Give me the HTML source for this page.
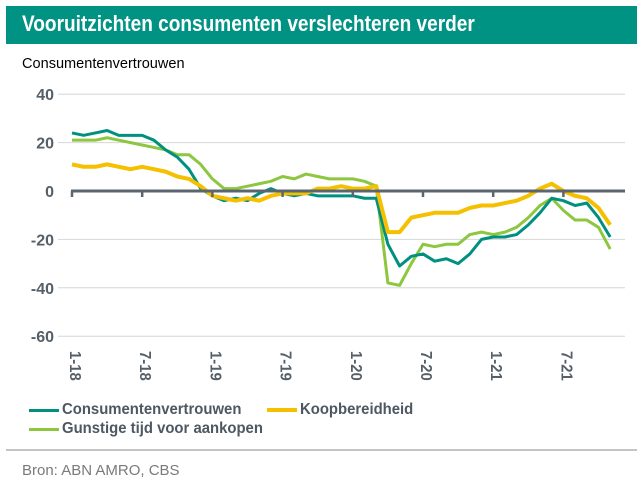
<!DOCTYPE html>
<html><head><meta charset="utf-8"><style>
body{margin:0;background:#fff;width:643px;height:500px;overflow:hidden;font-family:"Liberation Sans",Arial,sans-serif}
.lg{position:absolute;font-size:16px;font-weight:bold;color:#4d5862;line-height:20px;white-space:nowrap}
.sw{position:absolute;height:3px}
</style></head><body>
<div style="position:absolute;left:6px;top:6px;width:631px;height:38px;background:#009383"></div>
<div style="position:absolute;left:22px;top:9px;color:#fff;font-weight:bold;font-size:22px;line-height:30px;white-space:nowrap;transform:scaleX(0.866);transform-origin:0 0">Vooruitzichten consumenten verslechteren verder</div>
<div style="position:absolute;left:22px;top:54px;color:#000;font-size:15px;line-height:20px;transform:scaleX(0.97);transform-origin:0 0">Consumentenvertrouwen</div>
<svg id="chart" width="643" height="500" style="position:absolute;left:0;top:0">
<g id="grid"></g><g id="series"></g><g id="xlabels"></g>
</svg>
<div>
<div class="sw" style="left:29px;top:409px;width:30px;background:#00907f"></div>
<div class="lg" style="left:62px;top:400px;transform:scaleX(0.93);transform-origin:0 0">Consumentenvertrouwen</div>
<div class="sw" style="left:267px;top:408px;width:30px;height:4px;background:#f5c000"></div>
<div class="lg" style="left:300px;top:400px;transform:scaleX(0.93);transform-origin:0 0">Koopbereidheid</div>
<div class="sw" style="left:29px;top:428px;width:30px;background:#8dc63f"></div>
<div class="lg" style="left:62px;top:419px;transform:scaleX(0.93);transform-origin:0 0">Gunstige tijd voor aankopen</div>
</div>
<div style="position:absolute;left:6px;top:449px;width:631px;height:2px;background:#c4c4c4"></div>
<div style="position:absolute;left:22px;top:461px;font-size:15px;color:#7a7a7a;line-height:20px">Bron: ABN AMRO, CBS</div>
<script>
const yTicks=[40,20,0,-20,-40,-60];
const xTickLabels=["1-18","7-18","1-19","7-19","1-20","7-20","1-21","7-21"];
const consumentenvertrouwen=[24,23,24,25,23,23,23,21,17,14,9,1,-2,-4,-3,-4,-1,1,-1,-2,-1,-2,-2,-2,-2,-3,-3,-22,-31,-27,-26,-29,-28,-30,-26,-20,-19,-19,-18,-14,-9,-3,-4,-6,-5,-11,-19];
const koopbereidheid=[11,10,10,11,10,9,10,9,8,6,5,2,-2,-3,-4,-3,-4,-2,-1,-1,-1,1,1,2,1,1,2,-17,-17,-11,-10,-9,-9,-9,-7,-6,-6,-5,-4,-2,1,3,0,-2,-3,-7,-14];
const gunstigeTijd=[21,21,21,22,21,20,19,18,17,15,15,11,5,1,1,2,3,4,6,5,7,6,5,5,5,4,2,-38,-39,-30,-22,-23,-22,-22,-18,-17,-18,-17,-15,-11,-6,-3,-8,-12,-12,-15,-24];
const NS="http://www.w3.org/2000/svg";
const x0=72,dx=11.7,y0=191,py=2.42;
const X=i=>x0+i*dx, Y=v=>y0-v*py;
const grid=document.getElementById('grid');
yTicks.forEach(t=>{
  if(t!==0){const l=document.createElementNS(NS,'line');
  
  
  l.setAttribute('x1',58);l.setAttribute('x2',625);l.setAttribute('y1',Y(t));l.setAttribute('y2',Y(t));
  l.setAttribute('stroke','#d6d6d6');l.setAttribute('stroke-width',1);grid.appendChild(l);}
  const tx=document.createElementNS(NS,'text');
  
  
  tx.setAttribute('x',54);tx.setAttribute('y',Y(t)+6);tx.setAttribute('text-anchor','end');
  tx.setAttribute('font-size','16');tx.setAttribute('font-weight','bold');tx.setAttribute('fill','#555f68');
  tx.textContent=t;grid.appendChild(tx);
});
const xl=document.getElementById('xlabels');
xTickLabels.forEach((s,k)=>{
  const x=X(k*6);
  const tk=document.createElementNS(NS,'line');
  
  
  tk.setAttribute('x1',x);tk.setAttribute('x2',x);tk.setAttribute('y1',Y(0));tk.setAttribute('y2',Y(0)+6);
  tk.setAttribute('stroke','#5a6570');tk.setAttribute('stroke-width',2.5);xl.appendChild(tk);
  const t=document.createElementNS(NS,'text');
  
  
  t.setAttribute('transform',`translate(${x-2},351) rotate(90) scale(0.93,1)`);
  t.setAttribute('font-size','16');t.setAttribute('font-weight','bold');t.setAttribute('fill','#555f68');
  t.textContent=s;xl.appendChild(t);
});
const ax=document.createElementNS(NS,'line');


ax.setAttribute('x1',X(0)-1);ax.setAttribute('x2',625);ax.setAttribute('y1',Y(0));ax.setAttribute('y2',Y(0));
ax.setAttribute('stroke','#5a6570');ax.setAttribute('stroke-width',3);xl.appendChild(ax);
const sg=document.getElementById('series');
[[gunstigeTijd,'#8dc63f',3,'series-gunstige-tijd'],[consumentenvertrouwen,'#00907f',3,'series-consumentenvertrouwen'],[koopbereidheid,'#f5c000',4,'series-koopbereidheid']].forEach(([d,c,w,n])=>{
  const p=document.createElementNS(NS,'polyline');
  
  
  p.setAttribute('points',d.map((v,i)=>X(i)+','+Y(v)).join(' '));
  p.setAttribute('fill','none');p.setAttribute('stroke',c);p.setAttribute('stroke-width',w);p.setAttribute('stroke-linejoin','round');
  sg.appendChild(p);
});
</script>
</body></html>
